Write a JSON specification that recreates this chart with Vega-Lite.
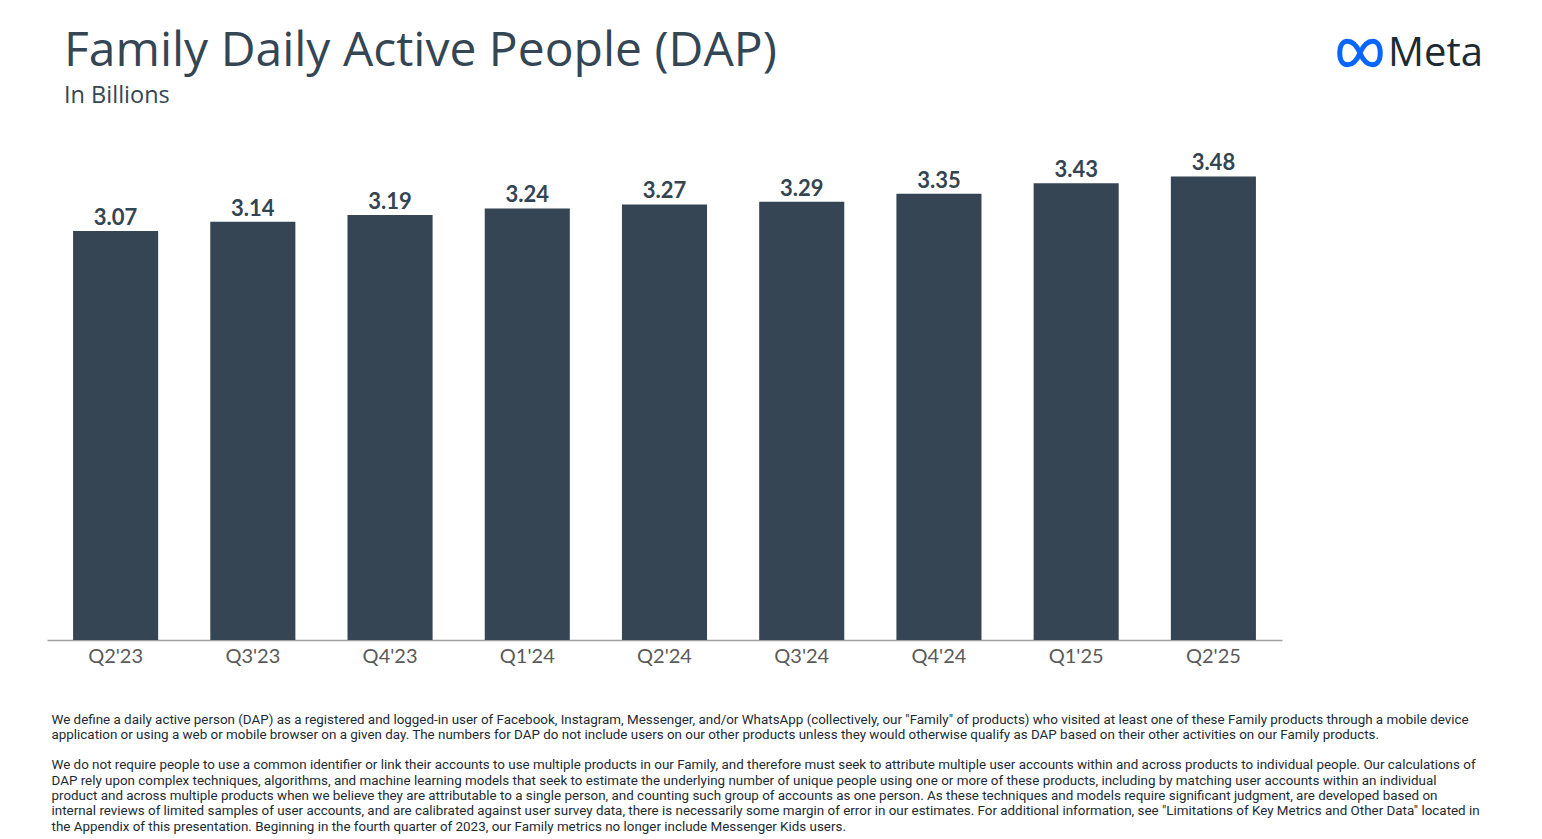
{
  "$schema": "https://vega.github.io/schema/vega-lite/v6.json",
  "width": 1235,
  "height": 500,
  "autosize": {"type": "none"},
  "padding": {"left": 47, "top": 140, "right": 260, "bottom": 199},
  "background": "white",
  "title": {
    "text": "Family Daily Active People (DAP)",
    "subtitle": "\u2009In Billions",
    "anchor": "start",
    "frame": "group",
    "dx": 17,
    "offset": -76,
    "font": "Open Sans",
    "fontSize": 48,
    "fontWeight": 400,
    "color": "#344654",
    "subtitleFont": "Open Sans",
    "subtitleFontSize": 23.5,
    "subtitleColor": "#344654",
    "subtitlePadding": 8
  },
  "config": {"view": {"stroke": null}},
  "layer": [
    {
      "data": {"values": [
        {"quarter": "Q2'23", "dap": 3.07},
        {"quarter": "Q3'23", "dap": 3.14},
        {"quarter": "Q4'23", "dap": 3.19},
        {"quarter": "Q1'24", "dap": 3.24},
        {"quarter": "Q2'24", "dap": 3.27},
        {"quarter": "Q3'24", "dap": 3.29},
        {"quarter": "Q4'24", "dap": 3.35},
        {"quarter": "Q1'25", "dap": 3.43},
        {"quarter": "Q2'25", "dap": 3.48}
      ]},
      "encoding": {
        "x": {
          "field": "quarter", "type": "nominal", "sort": null,
          "scale": {"paddingInner": 0.38, "paddingOuter": 0.19},
          "axis": {
            "labelAngle": 0,
            "labelFont": "Lato",
            "labelFontSize": 20,
            "labelColor": "#5a5a5a",
            "labelPadding": 6,
            "ticks": false,
            "domainColor": "#a0a0a0",
            "domainWidth": 1.5,
            "grid": false,
            "title": [
              "We define a daily active person (DAP) as a registered and logged-in user of Facebook, Instagram, Messenger, and/or WhatsApp (collectively, our \"Family\" of products) who visited at least one of these Family products through a mobile device",
              "application or using a web or mobile browser on a given day. The numbers for DAP do not include users on our other products unless they would otherwise qualify as DAP based on their other activities on our Family products.",
              "\u2800",
              "We do not require people to use a common identifier or link their accounts to use multiple products in our Family, and therefore must seek to attribute multiple user accounts within and across products to individual people. Our calculations of",
              "DAP rely upon complex techniques, algorithms, and machine learning models that seek to estimate the underlying number of unique people using one or more of these products, including by matching user accounts within an individual",
              "product and across multiple products when we believe they are attributable to a single person, and counting such group of accounts as one person. As these techniques and models require significant judgment, are developed based on",
              "internal reviews of limited samples of user accounts, and are calibrated against user survey data, there is necessarily some margin of error in our estimates. For additional information, see \"Limitations of Key Metrics and Other Data\" located in",
              "the Appendix of this presentation. Beginning in the fourth quarter of 2023, our Family metrics no longer include Messenger Kids users."
            ],
            "titleX": 4,
            "titleY": 72,
            "titleAlign": "left",
            "titleAnchor": "start",
            "titleBaseline": "top",
            "titleFont": "Roboto",
            "titleFontSize": 13.4,
            "titleFontWeight": 400,
            "titleColor": "#1c2b33",
            "titleLineHeight": 15.3
          }
        },
        "y": {
          "field": "dap", "type": "quantitative",
          "scale": {"domain": [0, 3.754], "nice": false},
          "axis": null
        }
      },
      "layer": [
        {"mark": {"type": "bar", "color": "#354553"}},
        {
          "mark": {"type": "text", "baseline": "bottom", "dy": -1, "font": "Lato", "fontSize": 22, "fontWeight": "bold", "color": "#344552"},
          "encoding": {"text": {"field": "dap", "type": "quantitative", "format": ".2f"}}
        }
      ]
    },
    {
      "data": {"values": [{"logo": "Meta"}]},
      "layer": [
        {
          "mark": {"type": "point", "shape": "M0,0 C0.3,-0.7 0.9,-0.7 0.9,0 C0.9,0.7 0.3,0.7 0,0 C-0.3,-0.7 -0.9,-0.7 -0.9,0 C-0.9,0.7 -0.3,0.7 0,0", "filled": false, "stroke": "#0866FF", "strokeWidth": 5, "size": 2025, "opacity": 1},
          "encoding": {"x": {"value": 1313}, "y": {"value": -87}}
        },
        {
          "mark": {"type": "text", "align": "left", "baseline": "middle", "font": "Open Sans", "fontSize": 40, "fontWeight": 500, "color": "#1c2b33"},
          "encoding": {"x": {"value": 1341}, "y": {"value": -86}, "text": {"field": "logo"}}
        }
      ]
    }
  ]
}
